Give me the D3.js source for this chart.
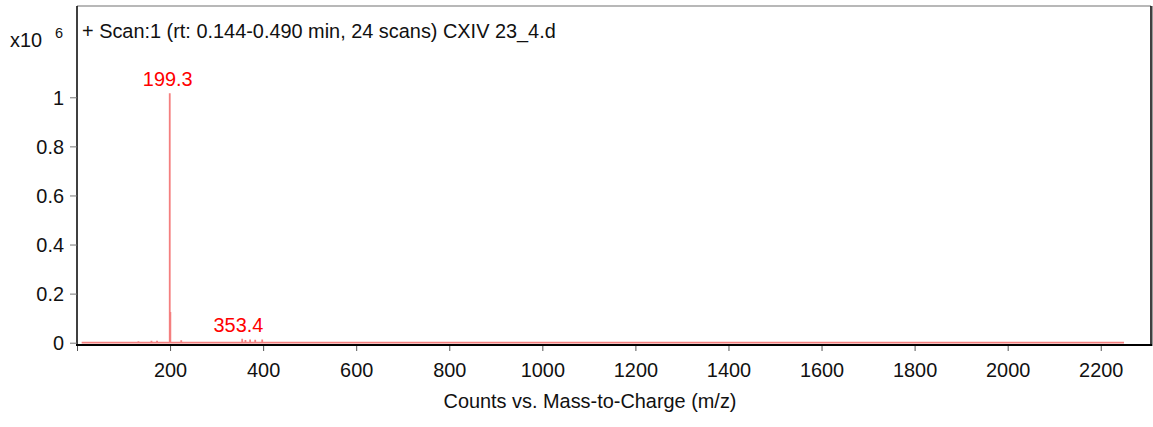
<!DOCTYPE html>
<html><head><meta charset="utf-8">
<script src="https://cdn.jsdelivr.net/npm/d3@7"></script>
<style>body{margin:0;background:#fff}svg{display:block}text{font-family:"Liberation Sans",Arial,sans-serif}</style>
</head><body>
<script>
const peakMz = [10, 132, 160, 172, 199.3, 200.6, 224, 355, 362, 372, 383, 398, 2250];
const peakIntensity = [0, 0.006, 0.008, 0.008, 1.016, 0.125, 0.01, 0.016, 0.011, 0.013, 0.012, 0.013, 0];
const labelMz = [199.3, 353.4];
const labelIntensity = [1.016, 0.016];
const xTicks = [0, 200, 400, 600, 800, 1000, 1200, 1400, 1600, 1800, 2000, 2200];
const yTicks = [0, 0.2, 0.4, 0.6, 0.8, 1];
const title = "+ Scan:1 (rt: 0.144-0.490 min, 24 scans) CXIV 23_4.d";

const W = 1153, H = 427;
const L = 77, R = 1151, T = 6, B = 345;
const FS = 19.9;
const svg = d3.select("body").append("svg").attr("width", W).attr("height", H);
const x = d3.scaleLinear().domain([0, 2308]).range([L, R]);
const y = d3.scaleLinear().domain([0, 1.372]).range([342.7, T]);

// frame
svg.append("line").attr("x1", L).attr("x2", R).attr("y1", T).attr("y2", T).attr("stroke", "#a0a0a0").attr("stroke-width", 1.5);
svg.append("line").attr("x1", R).attr("x2", R).attr("y1", T).attr("y2", B).attr("stroke", "#000").attr("stroke-width", 1.5);
svg.append("line").attr("x1", R + 1.5).attr("x2", R + 1.5).attr("y1", T).attr("y2", B + 1).attr("stroke", "#999").attr("stroke-width", 1);
svg.append("line").attr("x1", L).attr("x2", L).attr("y1", T).attr("y2", B).attr("stroke", "#000").attr("stroke-width", 1.5);

// spectrum as sticks
let d = `M${x(peakMz[0])},${y(0)}`;
peakMz.forEach((m, i) => {
  d += `L${x(m)},${y(0)}L${x(m)},${y(peakIntensity[i])}L${x(m)},${y(0)}`;
});
svg.append("path").attr("d", d).attr("fill", "none").attr("stroke", "#f47f7f").attr("stroke-width", 1.8);

// axes
const xAxis = d3.axisBottom(x).tickValues(xTicks).tickSize(6).tickFormat(v => v === 0 ? "" : v);
const gx = svg.append("g").attr("transform", `translate(0,${B})`).call(xAxis);
gx.select(".domain").remove();
gx.selectAll(".tick line").attr("stroke", "#555");
gx.selectAll(".tick text").attr("font-size", FS).attr("fill", "#111").attr("y", 31.5).attr("dy", 0);
svg.append("line").attr("x1", L - 1).attr("x2", R + 1).attr("y1", B).attr("y2", B).attr("stroke", "#000").attr("stroke-width", 2.2);

const yAxis = d3.axisLeft(y).tickValues(yTicks).tickSize(7).tickFormat(d3.format("~g"));
const gy = svg.append("g").attr("transform", `translate(${L},0)`).call(yAxis);
gy.select(".domain").remove();
gy.selectAll(".tick line").attr("stroke", "#777");
gy.selectAll(".tick text").attr("font-size", FS).attr("fill", "#111").attr("x", -13).attr("dy", "0.36em");

// labels
svg.selectAll(".plab").data(labelMz).enter().append("text")
  .attr("x", (m, i) => x(m) + (i === 0 ? -2 : -3))
  .attr("y", (m, i) => y(labelIntensity[i]) - 7)
  .attr("text-anchor", "middle").attr("font-size", FS).attr("fill", "#ff0000")
  .text(m => m.toFixed(1));

svg.append("text").attr("x", 82).attr("y", 38.3).attr("font-size", FS).attr("fill", "#111").text(title);
svg.append("text").attr("x", 10).attr("y", 46.7).attr("font-size", FS).attr("fill", "#111").text("x10");
svg.append("text").attr("x", 55).attr("y", 38.3).attr("font-size", 14.5).attr("fill", "#111").text("6");
svg.append("text").attr("x", 590).attr("y", 408.3).attr("text-anchor", "middle").attr("font-size", FS).attr("fill", "#111").text("Counts vs. Mass-to-Charge (m/z)");
</script>
</body></html>
